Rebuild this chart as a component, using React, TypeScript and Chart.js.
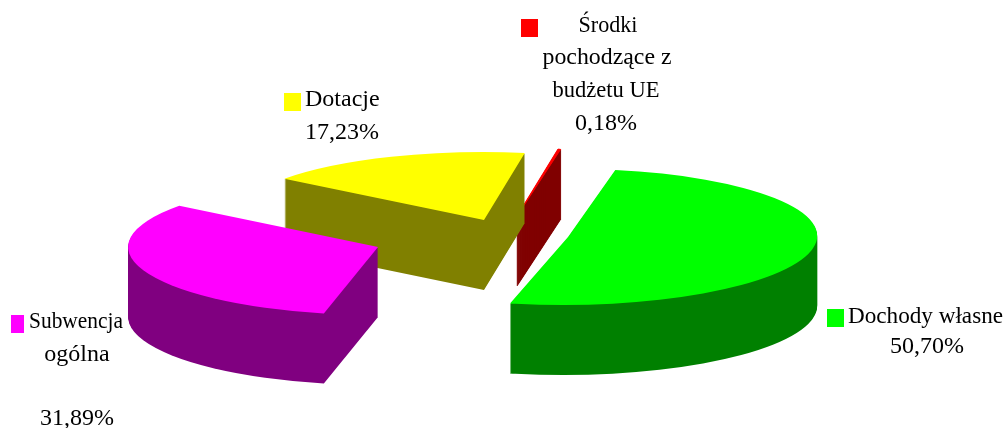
import React, { useEffect, useRef } from "react";
import { Chart, registerables } from "chart.js";

Chart.register(...registerables);

const categories = ["Dochody własne", "Subwencja ogólna", "Dotacje", "Środki pochodzące z budżetu UE"];
const shares = [50.7, 31.89, 17.23, 0.18];
const shareLabels = ["50,70%", "31,89%", "17,23%", "0,18%"];
const topColors = ["#00ff00", "#ff00ff", "#ffff00", "#ff0000"];
const sideColors = ["#008000", "#800080", "#808000", "#800000"];

// Layout of the exploded 3D view (canvas pixels)
const SQUASH = 68 / 245;
const DEPTH = 70;
const RADIUS = 245;
const sliceCentres = [
  { x: 568, y: 237, sx: 1.017, shear: -0.06 },
  { x: 378, y: 247, sx: 1.02, shear: 0 },
  { x: 484, y: 220, sx: 1.025, shear: 0 },
  { x: 517, y: 216, sx: 1.03, shear: 0 },
];
const sliceStroke = [0, 0, 0, 1];
const paintOrder = [3, 2, 1, 0];

const FONT = '24px "Liberation Serif"';
const keys = [
  { x: 827, y: 309, w: 17, h: 18, slice: 0 },
  { x: 11, y: 315, w: 13, h: 18, slice: 1 },
  { x: 284, y: 93, w: 17, h: 18, slice: 2 },
  { x: 521, y: 19, w: 17, h: 18, slice: 3 },
];
const texts: { t: string; x: number; y: number; a: CanvasTextAlign; max?: number }[] = [
  { t: "Dochody własne", x: 848, y: 323, a: "left", max: 155 },
  { t: shareLabels[0], x: 927, y: 353, a: "center" },
  { t: "Subwencja", x: 29, y: 328, a: "left", max: 94 },
  { t: "ogólna", x: 77, y: 361, a: "center" },
  { t: shareLabels[1], x: 77, y: 425, a: "center" },
  { t: "Dotacje", x: 305, y: 106, a: "left" },
  { t: shareLabels[2], x: 305, y: 139, a: "left" },
  { t: "Środki", x: 608, y: 32, a: "center", max: 59 },
  { t: "pochodzące z", x: 607, y: 64, a: "center", max: 129 },
  { t: "budżetu UE", x: 606, y: 97, a: "center", max: 107 },
  { t: shareLabels[3], x: 606, y: 130, a: "center" },
];

const extruded3d = {
  id: "extruded3d",
  beforeDatasetsDraw(chart: any) {
    const ctx = chart.ctx;
    const arcs = chart.getDatasetMeta(0).data;
    for (const i of paintOrder) {
      const arc = arcs[i];
      const base = arc.options;
      const c = sliceCentres[i];
      const paint = (dy: number, color: string) => {
        arc.options = { ...base, backgroundColor: color, borderColor: color, borderWidth: sliceStroke[i] };
        ctx.save();
        ctx.translate(c.x, c.y + dy);
        ctx.transform(c.sx, 0, c.shear * SQUASH, SQUASH, 0, 0);
        ctx.translate(-arc.x, -arc.y);
        arc.draw(ctx);
        ctx.restore();
      };
      for (let d = DEPTH; d >= 1; d--) paint(d, sideColors[i]);
      paint(0, topColors[i]);
      arc.options = base;
    }
    return false;
  },
  afterDraw(chart: any) {
    const ctx = chart.ctx;
    ctx.save();
    for (const k of keys) {
      ctx.fillStyle = topColors[k.slice];
      ctx.fillRect(k.x, k.y, k.w, k.h);
    }
    ctx.fillStyle = "#000000";
    ctx.font = FONT;
    ctx.textBaseline = "alphabetic";
    for (const l of texts) {
      ctx.textAlign = l.a;
      if (l.max) ctx.fillText(l.t, l.x, l.y, l.max);
      else ctx.fillText(l.t, l.x, l.y);
    }
    ctx.restore();
  },
};

export default function App() {
  const ref = useRef<HTMLCanvasElement | null>(null);
  useEffect(() => {
    const chart = new Chart(ref.current as HTMLCanvasElement, {
      type: "pie",
      data: {
        labels: categories,
        datasets: [
          {
            data: shares,
            backgroundColor: topColors,
            borderWidth: 0,
            radius: RADIUS,
          } as any,
        ],
      },
      options: {
        animation: false,
        responsive: false,
        rotation: 10,
        plugins: { legend: { display: false }, tooltip: { enabled: false } },
      },
      plugins: [extruded3d],
    } as any);
    return () => chart.destroy();
  }, []);
  return (
    <canvas
      ref={ref}
      width={1007}
      height={428}
      style={{ position: "absolute", left: 0, top: 0, width: 1007, height: 428, background: "#ffffff" }}
    />
  );
}
